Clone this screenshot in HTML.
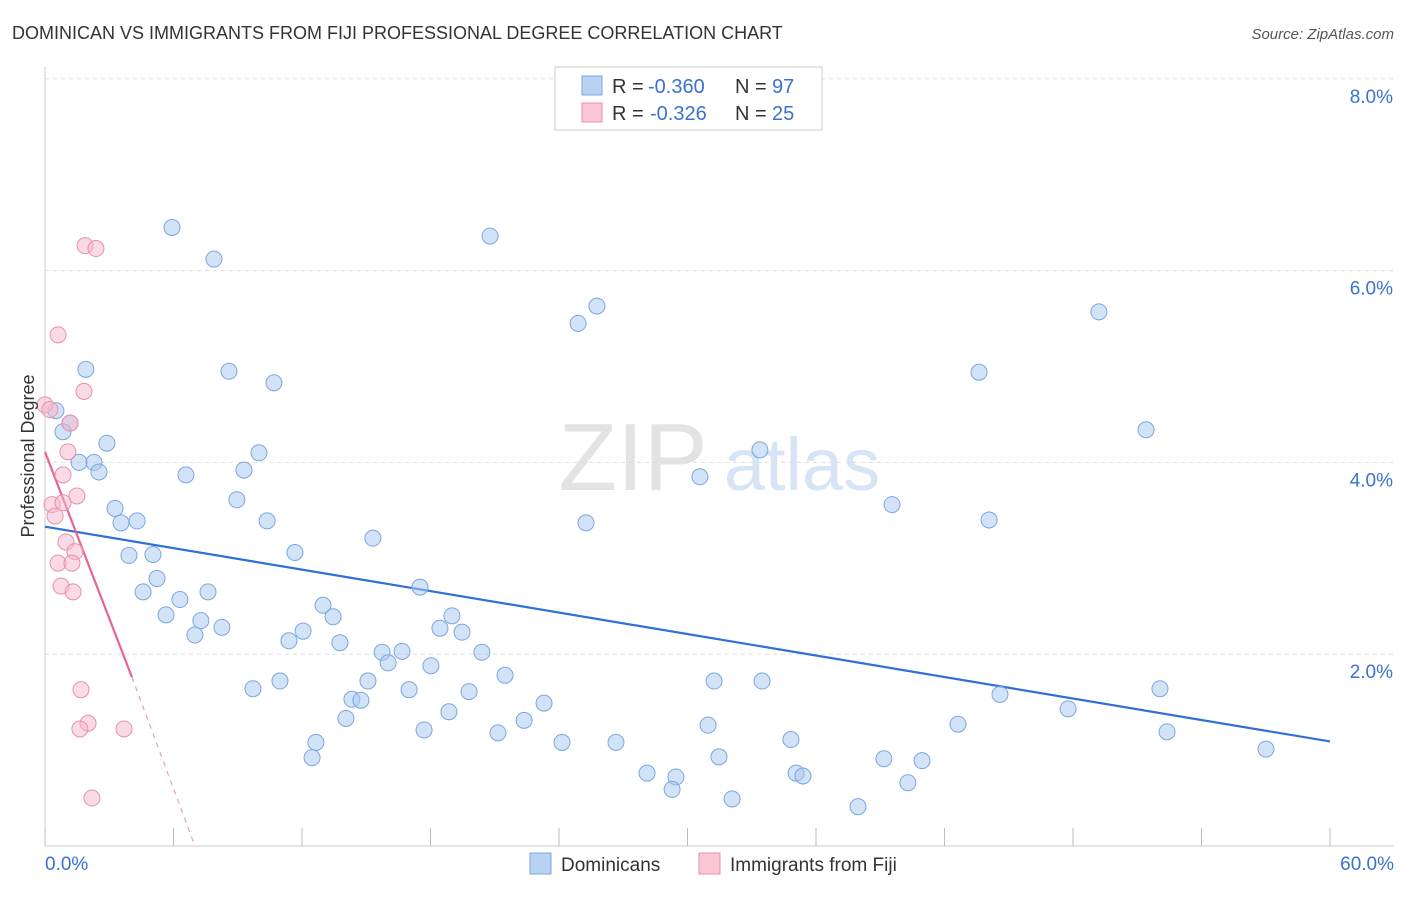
<!DOCTYPE html>
<html><head><meta charset="utf-8">
<style>
body{margin:0;background:#fff;font-family:"Liberation Sans",sans-serif;}
svg text{font-family:"Liberation Sans",sans-serif;}
</style></head>
<body>
<svg id="chart" width="1406" height="892">
  <text x="12" y="39" font-size="18" fill="#333">DOMINICAN VS IMMIGRANTS FROM FIJI PROFESSIONAL DEGREE CORRELATION CHART</text>
  <text x="1394" y="39" font-size="15" fill="#555" text-anchor="end" font-style="italic">Source: ZipAtlas.com</text>
  <g>
    <text x="633" y="490" font-size="96" fill="#e3e3e3" font-family="Liberation Serif, serif" text-anchor="middle">ZIP</text>
    <text x="802" y="490" font-size="74" fill="#d6e4f5" text-anchor="middle">atlas</text>
  </g>
  <g id="grid"></g>
  <g id="axes"></g>
  <g id="trend"></g>
  <g id="points"></g>
  <text transform="translate(34,456) rotate(-90)" font-size="18" fill="#333" text-anchor="middle">Professional Degree</text>
  <g>
    <rect x="555" y="67" width="267" height="63" fill="#fff" stroke="#ccc"/>
    <rect x="582" y="76" width="20" height="19" fill="#b8d2f3" stroke="#7aa6e0"/>
    <text x="612" y="93" font-size="20" fill="#333">R =</text>
    <text x="648" y="93" font-size="20" fill="#3a72d0">-0.360</text>
    <text x="735" y="93" font-size="20" fill="#333">N =</text>
    <text x="772" y="93" font-size="20" fill="#3a72d0">97</text>
    <rect x="582" y="103" width="20" height="19" fill="#f9c6d6" stroke="#e890ab"/>
    <text x="612" y="120" font-size="20" fill="#333">R =</text>
    <text x="650" y="120" font-size="20" fill="#3a72d0">-0.326</text>
    <text x="735" y="120" font-size="20" fill="#333">N =</text>
    <text x="772" y="120" font-size="20" fill="#3a72d0">25</text>
  </g>
  <g>
    <rect x="530" y="853" width="21" height="21" fill="#b8d2f3" stroke="#7aa6e0"/>
    <text x="561" y="871" font-size="19" fill="#333">Dominicans</text>
    <rect x="699" y="853" width="21" height="21" fill="#f9c6d6" stroke="#e890ab"/>
    <text x="730" y="871" font-size="19" fill="#333">Immigrants from Fiji</text>
  </g>
</svg>
<script>
const blueX=[5.93,7.89,20.78,25.77,24.89,49.21,1.91,8.59,10.69,43.61,0.51,1.17,0.84,2.89,9.99,33.38,51.41,1.59,2.29,2.52,6.58,9.29,30.58,8.96,3.27,3.55,4.30,10.37,25.26,39.55,44.08,15.31,3.92,5.04,11.67,5.23,4.58,7.61,17.51,6.30,5.65,7.28,12.98,13.45,19.00,8.26,7.00,12.05,11.39,18.44,19.47,13.77,15.74,16.67,20.40,16.02,18.02,21.48,15.08,10.97,9.71,17.00,19.80,14.33,14.75,23.30,31.24,33.48,44.59,47.77,52.06,14.05,18.86,22.37,30.96,42.63,17.70,21.15,52.39,12.65,24.14,26.66,34.83,57.01,12.47,31.47,28.11,29.46,39.17,40.95,35.07,35.39,29.28,40.29,32.08,37.96];
const blueY=[6.45,6.12,6.36,5.63,5.45,5.57,4.97,4.95,4.83,4.94,4.54,4.41,4.32,4.20,4.10,4.13,4.34,4.00,4.00,3.90,3.87,3.92,3.85,3.61,3.52,3.37,3.39,3.39,3.37,3.56,3.40,3.21,3.03,3.04,3.06,2.79,2.65,2.65,2.70,2.57,2.41,2.35,2.51,2.39,2.40,2.28,2.20,2.24,2.14,2.27,2.23,2.12,2.02,2.03,2.02,1.91,1.88,1.78,1.72,1.72,1.64,1.63,1.61,1.53,1.52,1.49,1.72,1.72,1.58,1.43,1.64,1.33,1.40,1.31,1.26,1.27,1.21,1.18,1.19,1.08,1.08,1.08,1.11,1.01,0.92,0.93,0.76,0.72,0.91,0.89,0.76,0.73,0.59,0.66,0.49,0.41];
const pinkX=[0,1.87,2.38,0.61,1.82,0.23,1.17,1.07,0.84,1.49,0.33,0.84,0.47,0.98,1.40,0.61,1.26,0.75,1.31,1.68,2.01,1.63,3.69,2.19];
const pinkY=[4.60,6.26,6.23,5.33,4.74,4.55,4.41,4.11,3.87,3.65,3.56,3.58,3.44,3.17,3.07,2.95,2.95,2.71,2.65,1.63,1.28,1.22,1.22,0.50];
const yTicks=[2,4,6,8];
const yTickLabels=["2.0%","4.0%","6.0%","8.0%"];
const xTicks=[0,6,12,18,24,30,36,42,48,54,60];
const blueTrend=[[0,3.33],[60,1.09]];
const pinkTrend=[[0,4.11],[4.06,1.76]];
const pinkTrendExt=[[4.06,1.76],[7.0,0]];

const X=v=>45+v*21.417, Y=v=>846-v*95.9;
const NS="http://www.w3.org/2000/svg";
function mk(tag,attrs,parent){const e=document.createElementNS(NS,tag);for(const k in attrs)e.setAttribute(k,attrs[k]);parent.appendChild(e);return e;}
const grid=document.getElementById('grid'),axes=document.getElementById('axes'),trend=document.getElementById('trend'),pts=document.getElementById('points');
yTicks.forEach((t,i)=>{
  const l=mk('line',{x1:45,x2:1394,y1:Y(t),y2:Y(t),stroke:'#ddd','stroke-dasharray':'4,4'},grid);
  
  
  const tx=mk('text',{x:1393,y:Y(t)+24,'font-size':19,fill:'#3a72d0','text-anchor':'end'},grid);
  tx.textContent=yTickLabels[i];
  
  
});
mk('line',{x1:45,x2:45,y1:67,y2:846,stroke:'#ccc'},axes);
mk('line',{x1:45,x2:1394,y1:846,y2:846,stroke:'#ccc'},axes);
xTicks.forEach(t=>{
  const l=mk('line',{x1:X(t),x2:X(t),y1:828,y2:846,stroke:'#bbb'},axes);
  
  
});
const xl0=mk('text',{x:45,y:870,'font-size':19,fill:'#3a72d0'},axes);xl0.textContent="0.0%";


const xl1=mk('text',{x:1394,y:870,'font-size':19,fill:'#3a72d0','text-anchor':'end'},axes);xl1.textContent="60.0%";



blueX.forEach((v,i)=>{
  const c=mk('circle',{cx:X(v),cy:Y(blueY[i]),r:8,fill:'#a8c8f0','fill-opacity':0.5,stroke:'#7aa6e0','stroke-width':1},pts);
  
  
});
pinkX.forEach((v,i)=>{
  const c=mk('circle',{cx:X(v),cy:Y(pinkY[i]),r:8,fill:'#f5b8cb','fill-opacity':0.5,stroke:'#e890ab','stroke-width':1},pts);
  
  
});
const bt=mk('line',{x1:X(blueTrend[0][0]),y1:Y(blueTrend[0][1]),x2:X(blueTrend[1][0]),y2:Y(blueTrend[1][1]),stroke:'#2f6fd6','stroke-width':2.2},trend);


const pt=mk('line',{x1:X(pinkTrend[0][0]),y1:Y(pinkTrend[0][1]),x2:X(pinkTrend[1][0]),y2:Y(pinkTrend[1][1]),stroke:'#e8638e','stroke-width':2.2},trend);


const pe=mk('line',{x1:X(pinkTrendExt[0][0]),y1:Y(pinkTrendExt[0][1]),x2:X(pinkTrendExt[1][0]),y2:Y(pinkTrendExt[1][1]),stroke:'#e8a0b8','stroke-width':1.2,'stroke-dasharray':'5,5'},trend);


</script>
</body></html>
